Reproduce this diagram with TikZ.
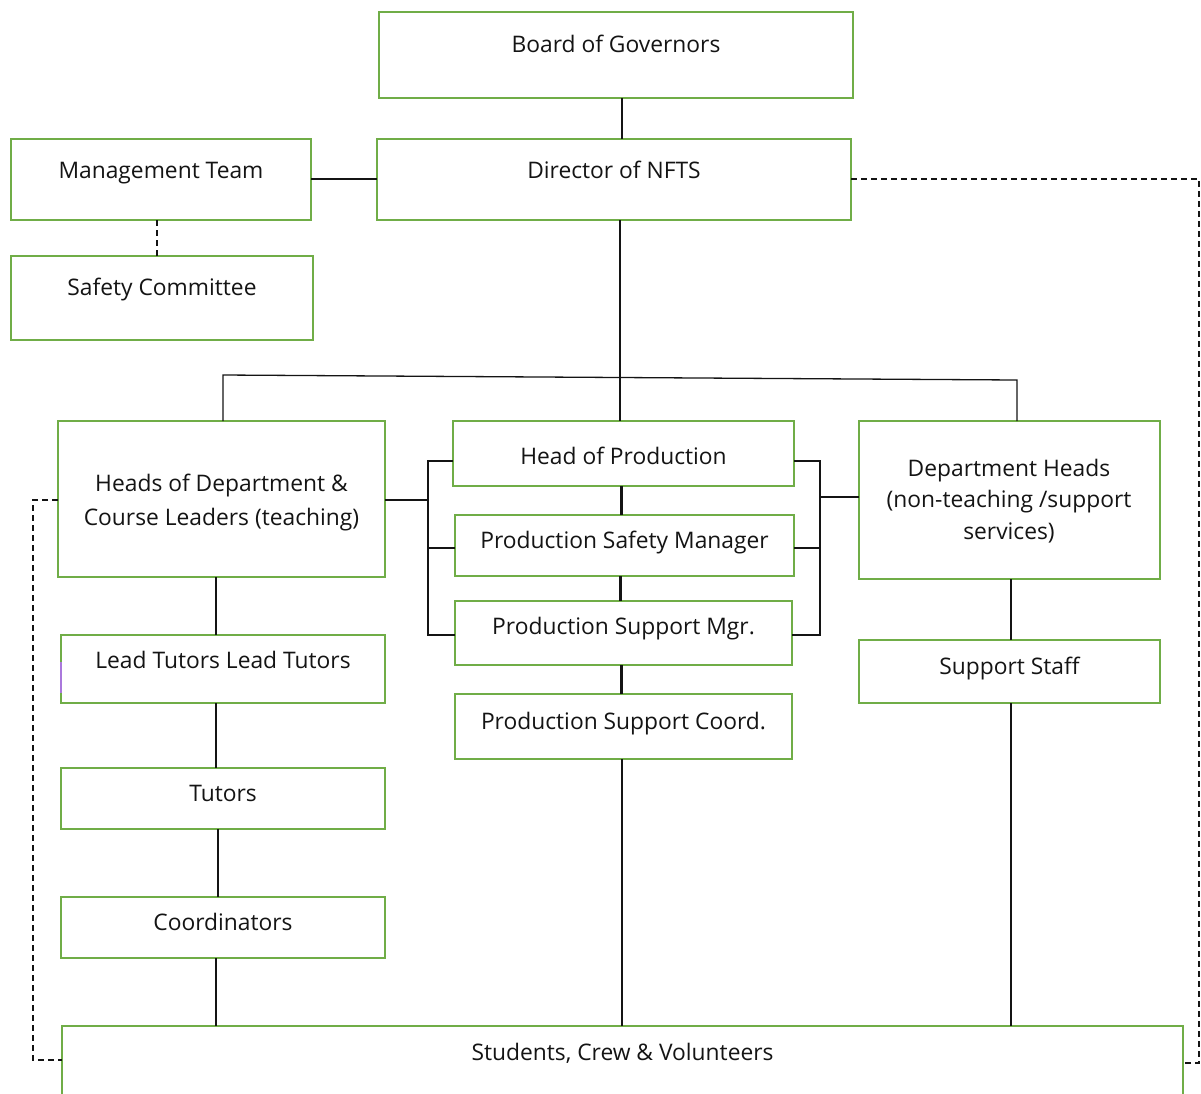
\documentclass[tikz,border=0pt]{standalone}
\usepackage{fontspec}
\setmainfont{Open Sans}
\definecolor{grn}{RGB}{112,173,71}
\definecolor{ink}{RGB}{20,20,20}
\definecolor{vio}{RGB}{170,120,220}
\tikzset{
  box/.style={draw=grn, line width=1.8pt, rectangle, inner sep=0pt, outer sep=0pt, anchor=north west},
  txt/.style={font=\fontsize{22.8}{34}\selectfont, text=ink, align=center, inner sep=0pt, text height=15pt, text depth=5pt},
  ln/.style={line width=1.3pt, draw=ink},
  thk/.style={line width=3pt, draw=ink},
  dsh/.style={line width=1.3pt, draw=ink, dash pattern=on 6pt off 4pt}
}
\newcommand\bx[7]{%
  \node[box, minimum width={(#4)-(#2)}, minimum height={(#5)-(#3)}] (#1) at (#2,#3) {};
  \node[txt] (#1t) at ({((#2)+(#4))/2},#6) {#7};}
\begin{document}
\begin{tikzpicture}[x=1pt,y=-1pt]
\useasboundingbox (0,0) rectangle (1201,1093);
\clip (0,0) rectangle (1201,1093);
\fill[white] (0,0) rectangle (1201,1093);

\bx{bog}{379}{12}{853}{98}{47}{Board of Governors}
\bx{dir}{377}{139}{851}{220}{173}{Director of NFTS}
\bx{mgt}{11}{139}{311}{220}{173}{Management Team}
\bx{saf}{11}{256}{313}{340}{290}{Safety Committee}
\bx{hod}{58}{421}{385}{577}{520}{Heads of Department \&\\Course Leaders (teaching)}
\bx{hop}{453}{421}{794}{486}{459}{Head of Production}
\bx{psm}{455}{515}{794}{576}{543}{Production Safety Manager}
\bx{pmg}{455}{601}{792}{665}{629}{Production Support Mgr.}
\bx{psc}{455}{694}{792}{759}{724}{Production Support Coord.}
\node[box, minimum width=301, minimum height=158] (dh) at (859,421) {};
\node[txt, font=\fontsize{22.8}{31.5}\selectfont] (dht) at (1009,534) {Department Heads\\(non-teaching /support\\services)};
\bx{lt}{61}{635}{385}{703}{663}{Lead Tutors Lead Tutors}
\bx{tut}{61}{768}{385}{829}{796}{Tutors}
\bx{crd}{61}{897}{385}{958}{925}{Coordinators}
\bx{ss}{859}{640}{1160}{703}{669}{Support Staff}
\bx{stu}{62}{1026}{1183}{1120}{1055}{Students, Crew \& Volunteers}
\draw[vio, line width=1.8pt] (lt.west |- 0,662) -- (lt.west |- 0,693);

% top connectors
\draw[ln] (bog.south -| 622,0) -- (dir.north -| 622,0);
\draw[ln] (mgt.east |- 0,179) -- (dir.west |- 0,179);
\draw[dsh] (mgt.south -| 157,0) -- (saf.north -| 157,0);

% bus
\coordinate (busL) at (223,375);
\coordinate (busR) at (1017,380);
\draw[ln] (dir.south -| 620,0) -- (hop.north -| 620,0);
\draw[ln] (hod.north -| busL) -- (busL) -- (busR) -- (dh.north -| busR);

% production chain
\draw[thk] (hop.south -| 621,0) -- (psm.north -| 621,0);
\draw[thk] (psm.south -| 620,0) -- (pmg.north -| 620,0);
\draw[thk] (pmg.south -| 621,0) -- (psc.north -| 621,0);
\draw[ln] (psc.south -| 622,0) -- (stu.north -| 622,0);

% brackets
\coordinate (bl) at (428,500);
\coordinate (br) at (820,497);
\draw[ln] (hop.west |- 0,461) -- (bl |- 0,461) -- (bl |- 0,635) -- (pmg.west |- 0,635);
\draw[ln] (psm.west |- 0,548) -- (bl |- 0,548);
\draw[ln] (hod.east |- bl) -- (bl);
\draw[ln] (hop.east |- 0,461) -- (br |- 0,461) -- (br |- 0,635) -- (pmg.east |- 0,635);
\draw[ln] (psm.east |- 0,548) -- (br |- 0,548);
\draw[ln] (dh.west |- br) -- (br);

% teaching chain
\draw[ln] (hod.south -| 216,0) -- (lt.north -| 216,0);
\draw[ln] (lt.south -| 216,0) -- (tut.north -| 216,0);
\draw[ln] (tut.south -| 218,0) -- (crd.north -| 218,0);
\draw[ln] (crd.south -| 216,0) -- (stu.north -| 216,0);

% support chain
\draw[ln] (dh.south -| 1011,0) -- (ss.north -| 1011,0);
\draw[ln] (ss.south -| 1011,0) -- (stu.north -| 1011,0);

% dashed links
\coordinate (dl) at (33,1060);
\coordinate (dr) at (1199,1063);
\draw[dsh] (hod.west |- 0,500) -- (dl |- 0,500) -- (dl) -- (stu.west |- dl);
\draw[dsh] (dir.east |- 0,179) -- (dr |- 0,179) -- (dr) -- (stu.east |- dr);
\end{tikzpicture}
\end{document}
